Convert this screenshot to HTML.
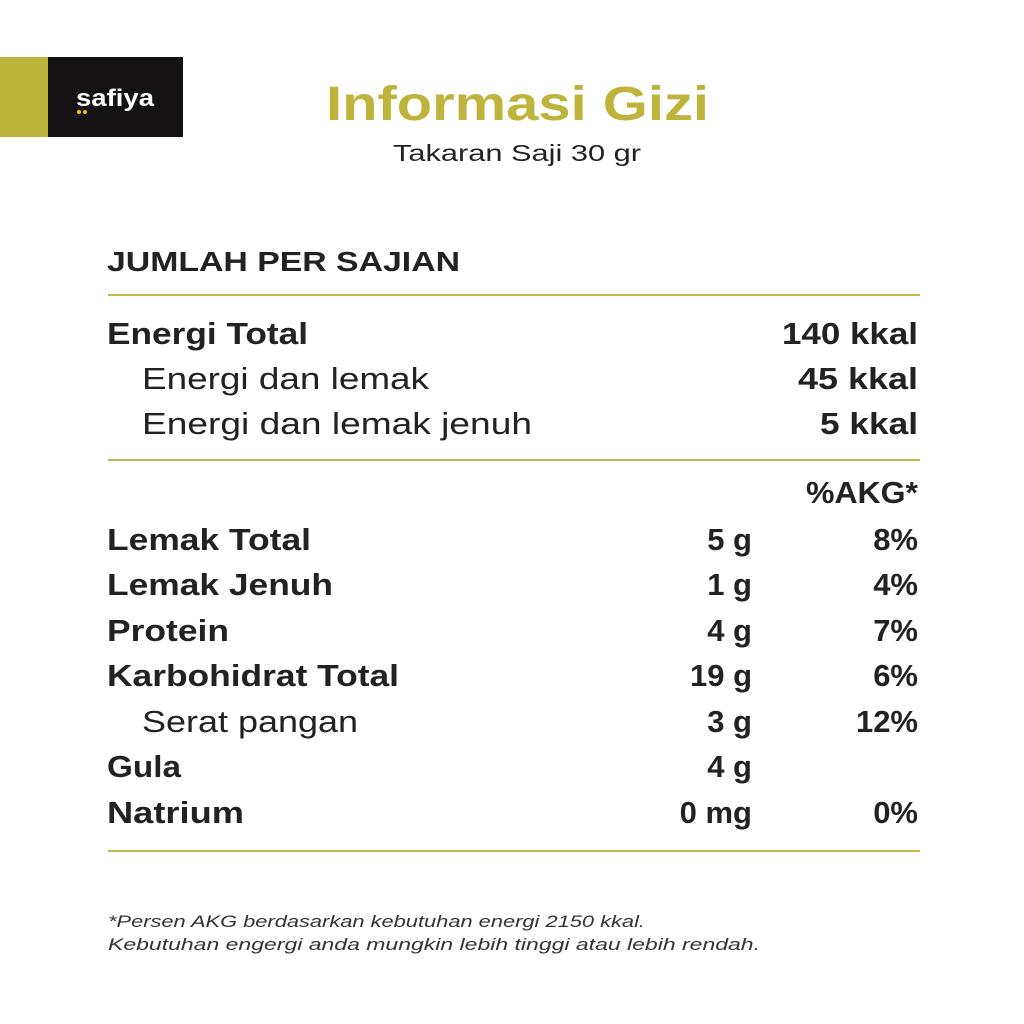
<!DOCTYPE html>
<html><head><meta charset="utf-8"><style>html,body{margin:0;padding:0;background:#fff}svg{display:block}</style></head>
<body>
<svg width="1024" height="1024" viewBox="0 0 1024 1024" xmlns="http://www.w3.org/2000/svg" font-family="Liberation Sans, sans-serif">
<rect x="0" y="0" width="1024" height="1024" fill="#fff"/>
<rect x="0" y="57" width="48" height="80" fill="#bdb43c"/>
<rect x="48" y="57" width="135" height="80" fill="#151213"/>
<text x="76" y="106" font-size="24" font-weight="bold" fill="#fff" textLength="78" lengthAdjust="spacingAndGlyphs">safiya</text>
<circle cx="79" cy="112" r="2" fill="#f2c500"/><circle cx="85" cy="112" r="2" fill="#f2c500"/>
<text x="326" y="120" font-size="48" font-weight="bold" fill="#bfb43b" textLength="383" lengthAdjust="spacingAndGlyphs">Informasi Gizi</text>
<text x="393" y="161" font-size="23" fill="#222" textLength="248" lengthAdjust="spacingAndGlyphs">Takaran Saji 30 gr</text>
<text x="107" y="271" font-size="28" font-weight="bold" fill="#222" textLength="353" lengthAdjust="spacingAndGlyphs">JUMLAH PER SAJIAN</text>
<g stroke="#c2b94a" stroke-width="2">
<line x1="108" y1="295" x2="920" y2="295"/><line x1="108" y1="460" x2="920" y2="460"/><line x1="108" y1="851" x2="920" y2="851"/>
</g>
<g font-size="31" fill="#222" lengthAdjust="spacingAndGlyphs">
<text x="107" y="344" font-weight="bold" textLength="201" lengthAdjust="spacingAndGlyphs">Energi Total</text>
<text x="142" y="389" textLength="287" lengthAdjust="spacingAndGlyphs">Energi dan lemak</text>
<text x="142" y="434" textLength="390" lengthAdjust="spacingAndGlyphs">Energi dan lemak jenuh</text>
<g font-weight="bold">
<text x="782" y="344" textLength="136" lengthAdjust="spacingAndGlyphs">140 kkal</text>
<text x="798" y="389" textLength="120" lengthAdjust="spacingAndGlyphs">45 kkal</text>
<text x="820" y="434" textLength="98" lengthAdjust="spacingAndGlyphs">5 kkal</text>
<text x="806" y="503" textLength="112" lengthAdjust="spacingAndGlyphs">%AKG*</text>
<text x="107" y="550" textLength="204" lengthAdjust="spacingAndGlyphs">Lemak Total</text>
<text x="107" y="595" textLength="226" lengthAdjust="spacingAndGlyphs">Lemak Jenuh</text>
<text x="107" y="641" textLength="122" lengthAdjust="spacingAndGlyphs">Protein</text>
<text x="107" y="686" textLength="292" lengthAdjust="spacingAndGlyphs">Karbohidrat Total</text>
<text x="107" y="777" textLength="74" lengthAdjust="spacingAndGlyphs">Gula</text>
<text x="107" y="823" textLength="137" lengthAdjust="spacingAndGlyphs">Natrium</text>
<g text-anchor="end">
<text x="752" y="550">5 g</text><text x="752" y="595">1 g</text><text x="752" y="641">4 g</text>
<text x="752" y="686">19 g</text><text x="752" y="732">3 g</text><text x="752" y="777">4 g</text><text x="752" y="823">0 mg</text>
<text x="918" y="550">8%</text><text x="918" y="595">4%</text><text x="918" y="641">7%</text>
<text x="918" y="686">6%</text><text x="918" y="732">12%</text><text x="918" y="823">0%</text>
</g>
</g>
<text x="142" y="732" textLength="216" lengthAdjust="spacingAndGlyphs">Serat pangan</text>
</g>
<g font-size="17" font-style="italic" fill="#333">
<text x="108" y="927" textLength="537" lengthAdjust="spacingAndGlyphs">*Persen AKG berdasarkan kebutuhan energi 2150 kkal.</text>
<text x="108" y="950" textLength="652" lengthAdjust="spacingAndGlyphs">Kebutuhan engergi anda mungkin lebih tinggi atau lebih rendah.</text>
</g>
</svg>
</body></html>
